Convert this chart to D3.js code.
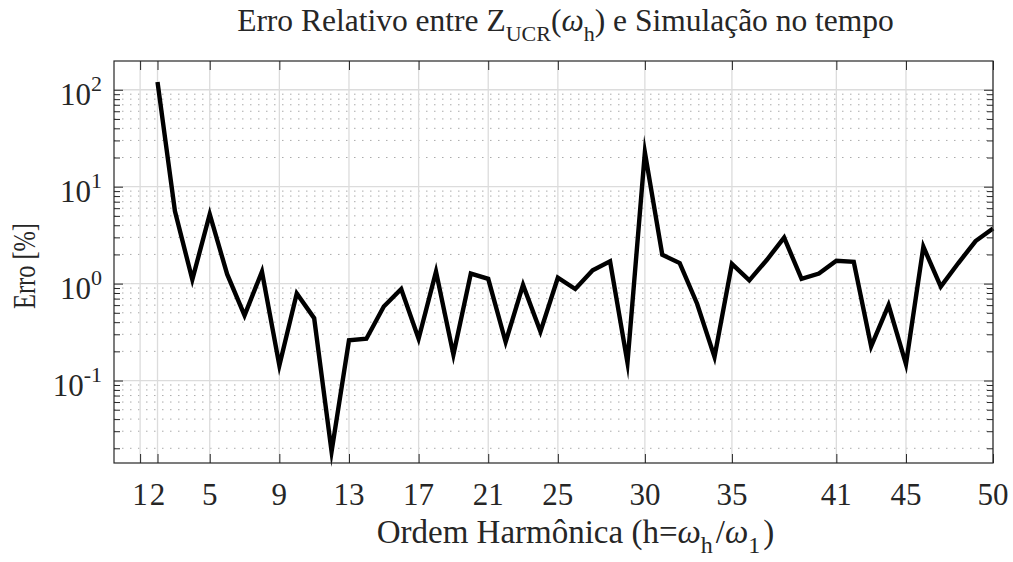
<!DOCTYPE html>
<html>
<head>
<meta charset="utf-8">
<script src="https://cdn.jsdelivr.net/npm/d3@7"></script>
<style>
  html, body { margin: 0; padding: 0; background: #fff; }
  svg { display: block; }
</style>
</head>
<body>
<svg id="chart" width="1013" height="562"></svg>
<script>
// ---- data ----
const harmonics = [2,3,4,5,6,7,8,9,10,11,12,13,14,15,16,17,18,19,20,21,22,23,24,25,26,
                   27,28,29,30,31,32,33,34,35,36,37,38,39,40,41,42,43,44,45,46,47,48,49,50];
const erro = [120,5.6,1.1,5.2,1.25,0.47,1.33,0.143,0.79,0.44,0.0185,0.26,0.27,0.58,0.88,0.27,1.33,0.185,1.27,1.12,0.25,
              0.97,0.32,1.15,0.88,1.37,1.7,0.153,22.6,1.98,1.63,0.62,0.175,1.6,1.08,1.75,2.98,1.12,1.27,1.72,1.68,
              0.225,0.6,0.148,2.4,0.93,1.62,2.75,3.7];
const xTicks = [1,2,5,9,13,17,21,25,30,35,41,45,50];
const yTickExps = [-1,0,1,2];
const xDomain = [-0.5, 50];
const yDomain = [0.0141, 198];

// ---- layout ----
const FONT = "Liberation Serif";
const svg = d3.select("#chart");
const L = 114, R = 993, T = 61, B = 463;
const x = d3.scaleLinear().domain(xDomain).range([L, R]);
const y = d3.scaleLog().domain(yDomain).range([B, T]);

const axisColor = "#262626";

// minor horizontal grid (dotted)
const minorVals = y.ticks().filter(v => {
  const e = Math.log10(v);
  return Math.abs(e - Math.round(e)) > 1e-9;
});
svg.append("g").selectAll("line").data(minorVals).join("line")
  .attr("x1", L).attr("x2", R)
  .attr("y1", d => y(d)).attr("y2", d => y(d))
  .attr("stroke", "#aaaaaa").attr("stroke-width", 1)
  .attr("stroke-dasharray", "1.5,6.5");

// major grids
svg.append("g").selectAll("line").data(yTickExps).join("line")
  .attr("x1", L).attr("x2", R)
  .attr("y1", d => y(Math.pow(10, d))).attr("y2", d => y(Math.pow(10, d)))
  .attr("stroke", "#dcdcdc").attr("stroke-width", 1.3);
svg.append("g").selectAll("line").data(xTicks).join("line")
  .attr("x1", d => x(d)).attr("x2", d => x(d))
  .attr("y1", T).attr("y2", B)
  .attr("stroke", "#dcdcdc").attr("stroke-width", 1.3);

// data line
const line = d3.line().x((d, i) => x(harmonics[i])).y(d => y(d));
svg.append("path").datum(erro)
  .attr("d", line)
  .attr("fill", "none").attr("stroke", "#000").attr("stroke-width", 4.4)
  .attr("stroke-linejoin", "miter").attr("stroke-miterlimit", 10);

// axes (ticks inward, box)
const majorY = yTickExps.map(e => Math.pow(10, e));
function styleAxis(g) {
  g.select(".domain").remove();
  g.selectAll(".tick line").attr("stroke", axisColor).attr("stroke-width", 1);
  g.selectAll(".tick text").remove();
}
svg.append("g").attr("transform", `translate(0,${B})`)
  .call(d3.axisBottom(x).tickValues(xTicks).tickSizeInner(-9).tickSizeOuter(0).tickFormat(""))
  .call(styleAxis);
svg.append("g").attr("transform", `translate(0,${T})`)
  .call(d3.axisTop(x).tickValues(xTicks).tickSizeInner(-9).tickSizeOuter(0).tickFormat(""))
  .call(styleAxis);
svg.append("g").attr("transform", `translate(${L},0)`)
  .call(d3.axisLeft(y).tickValues(minorVals).tickSizeInner(-6).tickSizeOuter(0).tickFormat(""))
  .call(styleAxis);
svg.append("g").attr("transform", `translate(${R},0)`)
  .call(d3.axisRight(y).tickValues(minorVals).tickSizeInner(-6).tickSizeOuter(0).tickFormat(""))
  .call(styleAxis);
svg.append("g").attr("transform", `translate(${L},0)`)
  .call(d3.axisLeft(y).tickValues(majorY).tickSizeInner(-9).tickSizeOuter(0).tickFormat(""))
  .call(styleAxis);
svg.append("g").attr("transform", `translate(${R},0)`)
  .call(d3.axisRight(y).tickValues(majorY).tickSizeInner(-9).tickSizeOuter(0).tickFormat(""))
  .call(styleAxis);
svg.append("rect").attr("x", L).attr("y", T).attr("width", R - L).attr("height", B - T)
  .attr("fill", "none").attr("stroke", axisColor).attr("stroke-width", 1.2);

// x tick labels
svg.append("g").selectAll("text").data(xTicks).join("text")
  .attr("font-family", FONT).attr("fill", axisColor)
  .attr("x", d => x(d)).attr("y", 505)
  .attr("text-anchor", "middle").attr("font-size", 31)
  .text(d => d);

// y tick labels
const yl = svg.append("g").selectAll("text").data(yTickExps).join("text")
  .attr("font-family", FONT).attr("fill", axisColor)
  .attr("x", 102).attr("y", d => y(Math.pow(10, d)) + 15.5)
  .attr("text-anchor", "end").attr("font-size", 31);
yl.append("tspan").text("10");
yl.append("tspan").attr("dy", -14).attr("font-size", 22).text(d => d);

// y axis label
svg.append("text")
  .attr("font-family", FONT).attr("fill", axisColor)
  .attr("transform", `translate(35,${(T + B) / 2 + 4}) rotate(-90)`)
  .attr("text-anchor", "middle").attr("font-size", 31)
  .attr("textLength", 86).attr("lengthAdjust", "spacingAndGlyphs")
  .text("Erro [%]");

// x axis label
const xl = svg.append("text")
  .attr("font-family", FONT).attr("fill", axisColor)
  .attr("x", (L + R) / 2 + 22).attr("y", 543)
  .attr("text-anchor", "middle").attr("font-size", 33);
xl.append("tspan").text("Ordem Harmônica (h=");
xl.append("tspan").attr("font-style", "italic").text("ω");
xl.append("tspan").attr("dy", 10).attr("font-size", 24).text("h");
xl.append("tspan").attr("dy", -10).attr("dx", 3).text("/");
xl.append("tspan").attr("font-style", "italic").text("ω");
xl.append("tspan").attr("dy", 10).attr("font-size", 24).text("1");
xl.append("tspan").attr("dy", -10).attr("dx", 3).text(")");

// title
const tt = svg.append("text")
  .attr("font-family", FONT).attr("fill", axisColor)
  .attr("x", (L + R) / 2 + 12).attr("y", 31)
  .attr("text-anchor", "middle").attr("font-size", 31.5);
tt.append("tspan").text("Erro Relativo entre Z");
tt.append("tspan").attr("dy", 10).attr("font-size", 22).text("UCR");
tt.append("tspan").attr("dy", -10).text("(");
tt.append("tspan").attr("font-style", "italic").text("ω");
tt.append("tspan").attr("dy", 10).attr("font-size", 22).text("h");
tt.append("tspan").attr("dy", -10).text(") e Simulação no tempo");
</script>
</body>
</html>
